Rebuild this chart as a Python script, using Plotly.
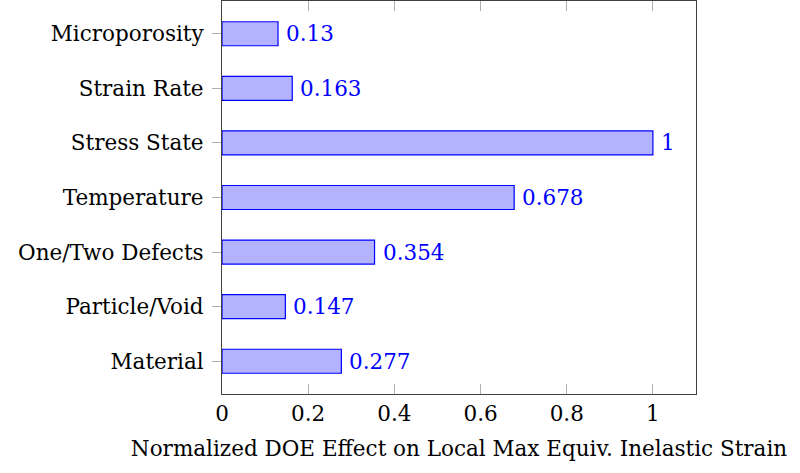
import plotly.graph_objects as go

categories = ["Material", "Particle/Void", "One/Two Defects", "Temperature",
              "Stress State", "Strain Rate", "Microporosity"]
values = [0.277, 0.147, 0.354, 0.678, 1, 0.163, 0.13]
value_labels = ["0.277", "0.147", "0.354", "0.678", "1", "0.163", "0.13"]
x_tickvals = [0, 0.2, 0.4, 0.6, 0.8, 1]
x_ticktext = ["0", "0.2", "0.4", "0.6", "0.8", "1"]
x_title = "Normalized DOE Effect on Local Max Equiv. Inelastic Strain"

FONT = "DejaVu Serif"
FS = 21.5

fig = go.Figure()
fig.add_trace(go.Bar(
    x=values, y=list(range(len(categories))), orientation="h",
    width=0.44,
    marker=dict(color="rgb(179,179,255)", line=dict(color="blue", width=1.2)),
    hoverinfo="skip",
))
for i, (v, t) in enumerate(zip(values, value_labels)):
    fig.add_annotation(x=v, y=i, text=t, xref="x", yref="y",
                       xanchor="left", yanchor="middle", xshift=6, showarrow=False,
                       font=dict(family=FONT, size=FS, color="blue"))

fig.update_layout(
    width=800, height=473,
    margin=dict(l=222, r=104, t=1, b=79),
    plot_bgcolor="white", paper_bgcolor="white",
    showlegend=False,
    font=dict(family=FONT, size=FS, color="black"),
)
fig.update_xaxes(
    range=[0, 1.1], tickvals=x_tickvals, ticktext=x_ticktext,
    ticks="inside", ticklen=10, tickcolor="#b0b0b0", tickwidth=1,
    showline=True, linecolor="#404040", linewidth=1.2, mirror="allticks",
    showgrid=False, zeroline=False, automargin=False,
    title=dict(text=x_title, standoff=16, font=dict(family=FONT, size=FS)),
    tickfont=dict(family=FONT, size=FS),
)
fig.update_yaxes(
    range=[-0.6, 6.6], tickvals=list(range(len(categories))), ticktext=categories,
    ticks="outside", ticklen=9, tickcolor="#b0b0b0", tickwidth=1,
    showline=True, linecolor="#404040", linewidth=1.2, mirror=True,
    showgrid=False, zeroline=False, ticklabelstandoff=4, automargin=False,
    tickfont=dict(family=FONT, size=FS),
)
fig.write_html("out.html", config={"displayModeBar": False},
               post_script="document.body.style.margin='0';document.body.style.overflow='hidden';")
